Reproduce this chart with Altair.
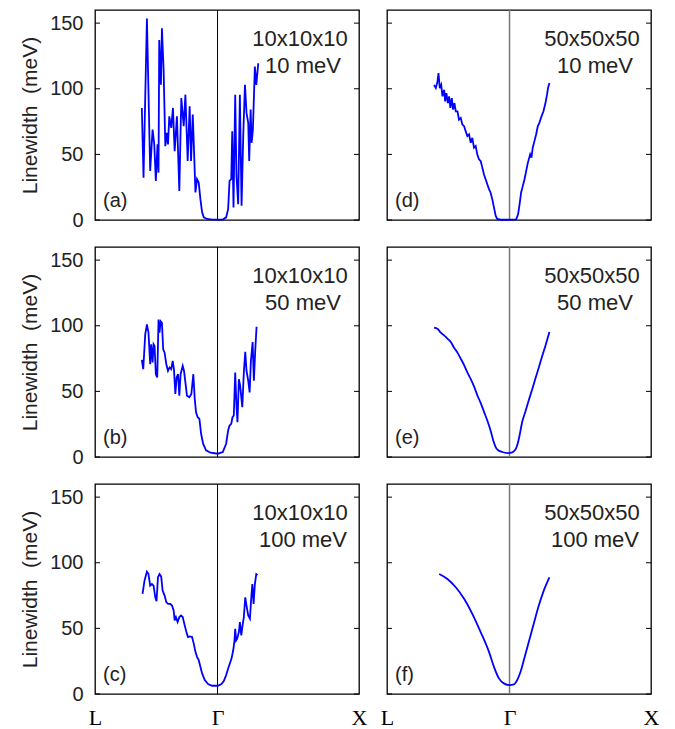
import altair as alt
import pandas as pd

# k-path coordinate: L = 0, Gamma = 0.866, X = 1.866
a_x = [0.331,0.343,0.367,0.390,0.407,0.419,0.430,0.442,0.449,0.454,0.466,0.473,0.485,0.497,0.508,0.516,0.525,0.539,0.551,0.563,0.579,0.596,0.610,0.627,0.639,0.655,0.669,0.679,0.691,0.698,0.710,0.721,0.733,0.745,0.757,0.769,0.792,0.828,0.868,0.903,0.927,0.941,0.951,0.963,0.970,0.979,0.991,1.000,1.012,1.024,1.036,1.048,1.060,1.071,1.083,1.090,1.100,1.107,1.116,1.126,1.130,1.140,1.154]
a_y = [85.4,32.3,153.5,37.4,68.9,57.6,29.8,57.6,36.1,137.1,103.0,146.0,114.4,56.3,66.4,57.6,79.0,70.2,85.4,52.5,79.0,22.2,92.9,71.5,95.5,45.0,86.6,45.0,80.3,58.8,21.0,31.1,28.5,15.9,5.8,2.0,0.8,0.3,0.3,0.3,2.0,8.3,29.8,31.1,67.7,9.6,95.5,33.6,12.1,95.5,10.9,65.2,103.0,81.6,74.0,45.0,84.1,58.8,68.9,103.0,116.9,103.0,119.4]

b_x = [0.331,0.341,0.355,0.367,0.378,0.390,0.397,0.407,0.414,0.421,0.430,0.440,0.449,0.456,0.464,0.473,0.482,0.492,0.504,0.516,0.527,0.539,0.549,0.558,0.568,0.577,0.587,0.596,0.605,0.620,0.629,0.639,0.650,0.667,0.681,0.695,0.705,0.714,0.726,0.738,0.750,0.764,0.785,0.816,0.868,0.903,0.927,0.941,0.951,0.963,0.972,0.981,0.991,1.000,1.007,1.017,1.026,1.041,1.052,1.062,1.071,1.083,1.093,1.102,1.114,1.123,1.133,1.142]
b_y = [74.0,66.9,93.4,101.0,94.7,70.7,85.9,72.0,85.9,84.6,63.1,60.6,104.8,94.7,103.5,102.3,82.1,79.5,70.7,65.7,68.2,66.9,73.2,66.9,48.0,60.6,63.1,46.7,63.1,69.4,65.7,56.8,46.7,45.5,48.0,63.1,44.2,34.1,30.3,29.0,17.7,10.1,5.1,3.3,2.5,3.8,10.1,20.2,24.0,25.3,30.3,31.6,64.4,39.1,26.5,59.3,54.3,37.9,64.4,80.1,65.7,58.1,49.2,73.2,87.6,58.1,82.1,99.2]

c_x = [0.336,0.350,0.367,0.378,0.390,0.402,0.414,0.426,0.435,0.445,0.456,0.468,0.478,0.492,0.504,0.516,0.532,0.544,0.556,0.563,0.572,0.584,0.596,0.608,0.620,0.634,0.646,0.657,0.669,0.686,0.698,0.710,0.721,0.733,0.745,0.757,0.776,0.799,0.828,0.868,0.894,0.911,0.927,0.941,0.953,0.965,0.977,0.986,0.991,0.998,1.005,1.017,1.024,1.034,1.043,1.052,1.062,1.071,1.083,1.095,1.104,1.112,1.121,1.130,1.140,1.149]
c_y = [76.3,86.4,93.2,91.4,82.6,83.8,82.6,73.7,70.7,88.9,91.4,89.4,78.8,75.0,70.0,68.7,68.7,67.4,63.6,56.1,58.6,54.8,58.6,59.8,58.6,52.3,47.2,43.4,43.9,43.4,38.4,32.1,28.3,25.8,20.7,15.7,10.6,7.6,6.3,6.3,7.6,10.1,14.4,19.4,23.2,27.0,33.3,40.9,49.7,40.9,42.2,47.2,54.8,44.7,52.3,58.6,73.7,67.4,59.8,57.3,72.5,83.8,68.7,83.8,91.4,90.7]

d_x = [0.333,0.345,0.357,0.364,0.373,0.383,0.392,0.404,0.411,0.420,0.430,0.439,0.448,0.458,0.467,0.477,0.486,0.498,0.509,0.521,0.533,0.545,0.556,0.568,0.580,0.592,0.603,0.615,0.627,0.638,0.650,0.662,0.674,0.685,0.697,0.709,0.721,0.732,0.744,0.756,0.768,0.779,0.803,0.866,0.913,0.927,0.939,0.948,0.960,0.972,0.984,0.993,1.002,1.012,1.021,1.030,1.042,1.054,1.066,1.077,1.092,1.106,1.120,1.131,1.138,1.148]
d_y = [103.0,100.5,105.6,111.9,100.5,103.0,94.2,99.2,90.4,96.7,89.1,94.2,85.4,92.9,84.1,89.1,82.8,82.8,76.5,77.8,72.7,71.5,67.7,63.9,65.2,58.8,62.6,55.1,56.3,50.0,46.2,44.9,39.9,34.8,31.1,27.3,23.5,21.0,15.9,9.6,3.3,0.8,0.2,0.2,0.5,4.5,13.4,21.0,26.0,31.1,37.4,42.4,46.2,50.0,47.5,55.1,60.1,65.2,71.5,74.0,79.0,82.8,89.1,95.5,100.5,104.3]

e_x = [0.333,0.357,0.380,0.404,0.427,0.451,0.474,0.498,0.521,0.545,0.568,0.592,0.615,0.638,0.662,0.685,0.709,0.732,0.751,0.768,0.786,0.815,0.850,0.880,0.904,0.920,0.937,0.955,0.979,1.002,1.026,1.049,1.073,1.096,1.120,1.148]
e_y = [98.5,97.7,94.7,92.7,90.2,87.6,83.3,79.5,75.0,70.0,64.4,59.3,53.8,47.2,41.2,34.6,27.8,20.2,12.6,7.6,5.1,3.8,3.0,3.3,5.1,8.8,16.4,26.5,34.8,43.2,51.5,59.8,68.2,76.5,84.8,95.2]

f_x = [0.369,0.427,0.486,0.545,0.603,0.662,0.721,0.756,0.791,0.826,0.866,0.897,0.920,0.944,0.967,1.002,1.037,1.073,1.108,1.148]
f_y = [91.4,87.6,81.3,72.5,61.1,47.2,32.1,20.7,11.9,8.1,6.8,7.3,10.6,16.9,25.8,39.6,53.5,67.4,78.8,88.9]

x_ticks = [0.0, 0.866, 1.866]
x_tick_labels = ["L", "\u0393", "X"]
y_ticks = [0, 50, 100, 150]
gamma_pos = [0.866]

W, H = 264, 210
SANS = "Liberation Sans"
SERIF = "Liberation Serif"
TXT = "#222222"

xscale = alt.Scale(domain=[0, 1.866], nice=False, zero=False)
yscale = alt.Scale(domain=[0, 160], nice=False)

label_expr = ("datum.value < 0.5 ? '%s' : (datum.value < 1.5 ? '%s' : '%s')"
              % tuple(x_tick_labels))


def panel(xs, ys, letter, grid, smear, left, bottom, gamma_color, gamma_w, smooth):
    df = pd.DataFrame({"x": xs, "y": ys})
    if bottom:
        xaxis = alt.Axis(values=x_ticks, labelExpr=label_expr,
                         ticks=False, tickSize=0, domain=False, grid=False, labelFlush=False,
                         labelOverlap=False, labelFont=SERIF, labelFontSize=22, labelPadding=13,
                         labelColor="black", title=None)
    else:
        xaxis = None
    if left:
        yaxis = alt.Axis(values=y_ticks, ticks=False, tickSize=0, domain=False, grid=False,
                         labelFont=SANS, labelFontSize=20, labelPadding=12, labelColor=TXT,
                         title="Linewidth\u00a0 (meV)", titleFont=SANS, titleFontSize=21,
                         titleFontWeight="normal", titlePadding=9, titleColor=TXT)
    else:
        yaxis = None
    line = alt.Chart(df).mark_line(color="#0000ff", strokeWidth=1.8,
                                   interpolate="monotone" if smooth else "linear").encode(
        x=alt.X("x:Q", scale=xscale, axis=xaxis),
        y=alt.Y("y:Q", scale=yscale, axis=yaxis),
    )
    gam = alt.Chart(pd.DataFrame({"x": gamma_pos})).mark_rule(
        color=gamma_color, strokeWidth=gamma_w).encode(
        x=alt.X("x:Q", scale=xscale, axis=xaxis), y=alt.value(0), y2=alt.value(H))
    tdf = pd.DataFrame({"y": y_ticks})
    tl = alt.Chart(tdf).mark_rule(color="black", strokeWidth=1).encode(
        y=alt.Y("y:Q", scale=yscale, axis=yaxis), x=alt.value(0), x2=alt.value(5))
    tr = alt.Chart(tdf).mark_rule(color="black", strokeWidth=1).encode(
        y=alt.Y("y:Q", scale=yscale, axis=yaxis), x=alt.value(W - 5), x2=alt.value(W))
    t1 = alt.Chart(pd.DataFrame({"t": [grid]})).mark_text(
        font=SANS, fontSize=22, align="center", baseline="top", color=TXT).encode(
        text="t:N", x=alt.value(205), y=alt.value(19))
    t2 = alt.Chart(pd.DataFrame({"t": [smear]})).mark_text(
        font=SANS, fontSize=22, align="center", baseline="top", color=TXT).encode(
        text="t:N", x=alt.value(208), y=alt.value(46))
    t3 = alt.Chart(pd.DataFrame({"t": [letter]})).mark_text(
        font=SANS, fontSize=20, align="left", baseline="middle", color=TXT).encode(
        text="t:N", x=alt.value(8), y=alt.value(191))
    return alt.layer(gam, line, tl, tr, t1, t2, t3).properties(width=W, height=H)


pa = panel(a_x, a_y, "(a)", "10x10x10", "10 meV", True, False, "black", 1, False)
pd_ = panel(d_x, d_y, "(d)", "50x50x50", "10 meV", False, False, "#777777", 1.5, False)
pb = panel(b_x, b_y, "(b)", "10x10x10", "50 meV", True, False, "black", 1, False)
pe = panel(e_x, e_y, "(e)", "50x50x50", "50 meV", False, False, "#777777", 1.5, True)
pc = panel(c_x, c_y, "(c)", "10x10x10", "100 meV", True, True, "black", 1, False)
pf = panel(f_x, f_y, "(f)", "50x50x50", "100 meV", False, True, "#777777", 1.5, True)

chart = alt.concat(pa, pd_, pb, pe, pc, pf, columns=2,
                   spacing={"row": 27, "column": 28}, bounds="flush").properties(
    padding={"left": 10, "top": 0, "right": 5, "bottom": 2}
).configure_view(stroke="black", strokeWidth=1.3)

chart.save("out.html", embed_options={"renderer": "svg", "actions": False})
